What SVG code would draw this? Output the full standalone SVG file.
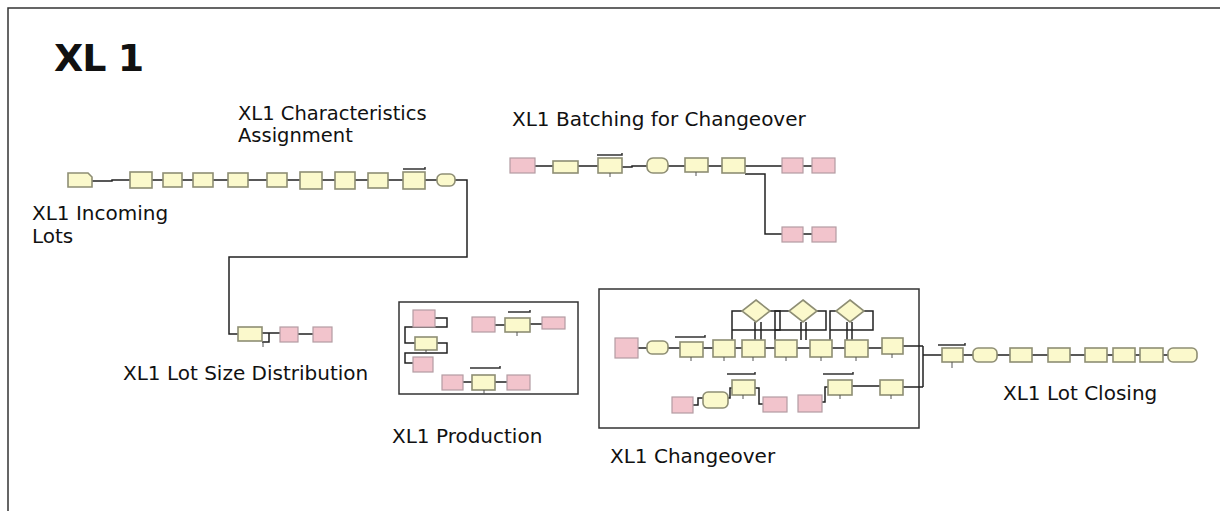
<svg xmlns="http://www.w3.org/2000/svg" width="1220" height="511" viewBox="0 0 1220 511">
<style>
.lbl{font-family:"DejaVu Sans",Verdana,sans-serif;font-size:20px;fill:#111}
.ttl{font-family:"DejaVu Sans",Verdana,sans-serif;font-size:38px;font-weight:bold;fill:#111;letter-spacing:-1px}
.y{fill:#fbf9cc;stroke:#8e8e74;stroke-width:1.6}
.p{fill:#f2c4cc;stroke:#b39ca2;stroke-width:1.2}
.bar{stroke:#333;stroke-width:1.5;fill:none}
.tick{stroke:#555;stroke-width:1;fill:none}
.c{fill:none;stroke:#222;stroke-width:1.5}
.frm{fill:none;stroke:#333;stroke-width:1.5}
</style>

<g id="border"><path class="frm" d="M8,511 V8 H1220" stroke-width="2"/></g>
<text class="ttl" x="54" y="71">XL 1</text>

<g id="labels">
<text class="lbl" x="32" y="220">XL1 Incoming</text>
<text class="lbl" x="32" y="243">Lots</text>
<text class="lbl" x="238" y="120" style="font-size:19.5px">XL1 Characteristics</text>
<text class="lbl" x="238" y="142" style="font-size:19.5px">Assignment</text>
<text class="lbl" x="512" y="126">XL1 Batching for Changeover</text>
<text class="lbl" x="123" y="380">XL1 Lot Size Distribution</text>
<text class="lbl" x="392" y="443">XL1 Production</text>
<text class="lbl" x="610" y="463">XL1 Changeover</text>
<text class="lbl" x="1003" y="400">XL1 Lot Closing</text>
</g>

<g id="frames">
<rect id="production-frame" class="frm" x="399" y="302" width="179" height="92"/>
<rect id="changeover-frame" class="frm" x="599" y="289" width="320" height="139"/>
</g>

<g id="connectors">
<path class="c" d="M92,181 H112 V180 H130"/>
<path class="c" d="M152,180 H163 M182,180 H193 M213,180 H228 M248,180 H267 M287,180 H300 M322,180 H335 M355,180 H368 M388,180 H403 M425,180 H437"/>
<path class="c" d="M455,180 H467 V257 H229 V334 H238"/>
<path class="c" d="M262,333 H280 M262,342 H269 V333 M298,334 H313"/>
<path class="c" d="M535,166 H553 M578,166 H598 M622,167 H632 V166 H647 M668,166 H685 M708,166 H722 M745,166 H782 M803,166 H812"/>
<path class="c" d="M745,174 H765 V234 H782 M803,234 H812"/>
<path class="c" d="M435,318 H447 V327 H405 V343 H415 M437,343 H447 V353 H405 V363 H413"/>
<path class="c" d="M495,325 H505 M530,324 H542 M463,382 H472 M495,382 H507"/>
<path class="c" d="M638,348 H647 M668,348 H680 M703,348 H713 M735,348 H742 M765,348 H775 M797,348 H810 M832,348 H845 M868,348 H882"/>
<path class="c" d="M743,311 H732 V340 M770,311 H780 V330 H732 M755,322 V340 M761,322 V340"/>
<path class="c" d="M790,311 H775 V340 M817,311 H826 V330 H775 M801,322 V340 M806,322 V340"/>
<path class="c" d="M837,311 H830 V340 M864,311 H873 V330 H830 M847,322 V340 M852,322 V340"/>
<path class="c" d="M693,405 H698 V398 H703 M728,398 H730 V388 H732 M755,388 H759 V404 H763 M822,402 H825 V387 H828 M852,386 H880"/>
<path class="c" d="M903,346 H923 M903,387 H923 M923,346 V387 M923,355 H942"/>
<path class="c" d="M963,355 H973 M997,355 H1010 M1032,355 H1048 M1070,355 H1085 M1107,355 H1113 M1135,355 H1140 M1163,355 H1168"/>
</g>

<g id="incoming-lots"><path class="y" d="M68,173 H88 L92,177 V187 H68 Z"/></g>
<g id="assign-1"><rect class="y" x="130" y="172" width="22" height="16"/></g>
<g id="assign-2"><rect class="y" x="163" y="173" width="19" height="14"/></g>
<g id="assign-3"><rect class="y" x="193" y="173" width="20" height="14"/></g>
<g id="assign-4"><rect class="y" x="228" y="173" width="20" height="14"/></g>
<g id="assign-5"><rect class="y" x="267" y="173" width="20" height="14"/></g>
<g id="assign-6"><rect class="y" x="300" y="172" width="22" height="17"/></g>
<g id="assign-7"><rect class="y" x="335" y="172" width="20" height="17"/></g>
<g id="assign-8"><rect class="y" x="368" y="173" width="20" height="15"/></g>
<g id="process-a"><rect class="y" x="403" y="172" width="22" height="17"/><path class="bar" d="M403,169 H425 V167"/></g>
<g id="record-a"><rect class="y" x="437" y="174" width="18" height="12" rx="5"/></g>

<g id="batch-1"><rect class="p" x="510" y="158" width="25" height="15"/></g>
<g id="batch-2"><rect class="y" x="553" y="161" width="25" height="12"/></g>
<g id="batch-3"><rect class="y" x="598" y="158" width="24" height="15"/><path class="bar" d="M597,155 H622 V153"/><path class="tick" d="M610,173 V177"/></g>
<g id="batch-4"><rect class="y" x="647" y="158" width="21" height="15" rx="6"/></g>
<g id="batch-5"><rect class="y" x="685" y="158" width="23" height="14"/><path class="tick" d="M696,172 V176"/></g>
<g id="batch-6"><rect class="y" x="722" y="158" width="23" height="15"/></g>
<g id="batch-7"><rect class="p" x="782" y="158" width="21" height="15"/></g>
<g id="batch-8"><rect class="p" x="812" y="158" width="23" height="15"/></g>
<g id="batch-9"><rect class="p" x="782" y="227" width="21" height="15"/></g>
<g id="batch-10"><rect class="p" x="812" y="227" width="24" height="15"/></g>

<g id="lotsize-1"><rect class="y" x="238" y="327" width="24" height="14"/><path class="tick" d="M263,343 V347"/></g>
<g id="lotsize-2"><rect class="p" x="280" y="327" width="18" height="15"/></g>
<g id="lotsize-3"><rect class="p" x="313" y="327" width="19" height="15"/></g>

<g id="prod-1"><rect class="p" x="413" y="310" width="22" height="17"/></g>
<g id="prod-2"><rect class="y" x="415" y="337" width="22" height="13"/><path class="tick" d="M426,350 V354"/></g>
<g id="prod-3"><rect class="p" x="413" y="357" width="20" height="15"/></g>
<g id="prod-4"><rect class="p" x="472" y="317" width="23" height="15"/></g>
<g id="prod-5"><rect class="y" x="505" y="318" width="25" height="14"/><path class="bar" d="M508,312 H530 V310"/><path class="tick" d="M517,332 V336"/></g>
<g id="prod-6"><rect class="p" x="542" y="317" width="23" height="12"/></g>
<g id="prod-7"><rect class="p" x="442" y="375" width="21" height="15"/></g>
<g id="prod-8"><rect class="y" x="472" y="375" width="23" height="15"/><path class="bar" d="M470,368 H500 V366"/><path class="tick" d="M484,390 V394"/></g>
<g id="prod-9"><rect class="p" x="507" y="375" width="23" height="15"/></g>

<g id="co-1"><rect class="p" x="615" y="338" width="23" height="20"/></g>
<g id="co-2"><rect class="y" x="647" y="341" width="21" height="13" rx="5"/></g>
<g id="co-3"><rect class="y" x="680" y="342" width="23" height="15"/><path class="bar" d="M675,337 H705 V335"/><path class="tick" d="M691,357 V361"/></g>
<g id="co-4"><rect class="y" x="713" y="340" width="22" height="17"/><path class="tick" d="M724,357 V361"/></g>
<g id="co-5"><rect class="y" x="742" y="340" width="23" height="17"/><path class="tick" d="M753,357 V361"/></g>
<g id="co-6"><rect class="y" x="775" y="340" width="22" height="17"/><path class="tick" d="M786,357 V361"/></g>
<g id="co-7"><rect class="y" x="810" y="340" width="22" height="17"/><path class="tick" d="M821,357 V361"/></g>
<g id="co-8"><rect class="y" x="845" y="340" width="23" height="17"/><path class="tick" d="M856,357 V361"/></g>
<g id="co-9"><rect class="y" x="882" y="338" width="21" height="16"/><path class="tick" d="M892,354 V358"/></g>
<g id="decide-1"><path class="y" d="M756,300 L770,311 L756,322 L742,311 Z"/></g>
<g id="decide-2"><path class="y" d="M803,300 L817,311 L803,322 L789,311 Z"/></g>
<g id="decide-3"><path class="y" d="M850,300 L864,311 L850,322 L836,311 Z"/></g>
<g id="co-10"><rect class="p" x="672" y="397" width="21" height="16"/></g>
<g id="co-11"><rect class="y" x="703" y="392" width="25" height="16" rx="5"/></g>
<g id="co-12"><rect class="y" x="732" y="380" width="23" height="15"/><path class="bar" d="M727,374 H755 V372"/><path class="tick" d="M743,395 V399"/></g>
<g id="co-13"><rect class="p" x="763" y="397" width="24" height="15"/></g>
<g id="co-14"><rect class="p" x="798" y="395" width="24" height="17"/></g>
<g id="co-15"><rect class="y" x="828" y="380" width="24" height="15"/><path class="bar" d="M823,374 H853 V372"/><path class="tick" d="M840,395 V399"/></g>
<g id="co-16"><rect class="y" x="880" y="380" width="23" height="15"/><path class="tick" d="M891,395 V399"/></g>

<g id="close-1"><rect class="y" x="942" y="348" width="21" height="14"/><path class="bar" d="M938,345 H965 V343"/><path class="tick" d="M952,362 V368"/></g>
<g id="close-2"><rect class="y" x="973" y="348" width="24" height="14" rx="5"/></g>
<g id="close-3"><rect class="y" x="1010" y="348" width="22" height="14"/></g>
<g id="close-4"><rect class="y" x="1048" y="348" width="22" height="14"/></g>
<g id="close-5"><rect class="y" x="1085" y="348" width="22" height="14"/></g>
<g id="close-6"><rect class="y" x="1113" y="348" width="22" height="14"/></g>
<g id="close-7"><rect class="y" x="1140" y="348" width="23" height="14"/></g>
<g id="close-8"><rect class="y" x="1168" y="348" width="29" height="14" rx="5"/></g>
</svg>
